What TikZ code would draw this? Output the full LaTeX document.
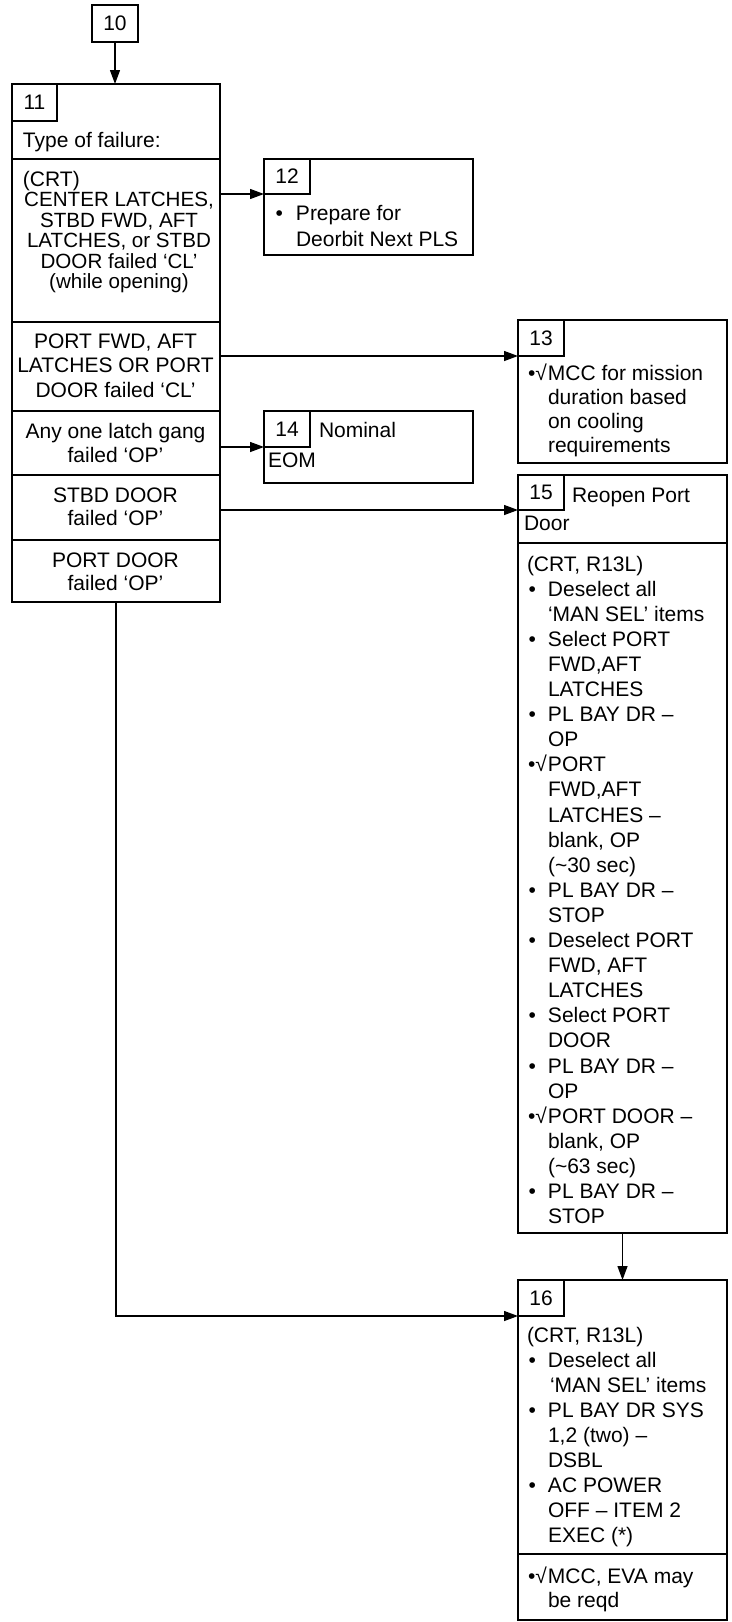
\documentclass[tikz,border=0pt]{standalone}
\usepackage{fontspec}
\setmainfont{Liberation Sans}
\usetikzlibrary{arrows.meta}
\newcommand\itm[2][21pt]{\par\hangindent=#1\hangafter=1\noindent\makebox[#1][l]{\hspace{1.5pt}•}#2}
\newcommand\chk[2][21pt]{\par\hangindent=#1\hangafter=1\noindent\makebox[#1][l]{\hspace{1pt}•√}#2}
\newcommand\tbox[3]{\parbox[t]{#1}{\fontsize{21}{#2}\selectfont\rightskip=0pt plus 1fil\relax #3}}
\newcommand\cbox[4][21]{\parbox[t]{#2}{\fontsize{#1}{#3}\selectfont\centering #4}}
\tikzset{
  box/.style={draw, line width=2.4pt, rectangle, inner sep=0pt, outer sep=0pt, anchor=north west},
  lbl/.style={draw, line width=1.4pt, rectangle, inner sep=0pt, outer sep=0pt, anchor=north west},
  sepline/.style={line width=2.4pt},
  conn/.style={line width=1.3pt, -{Triangle[length=14pt,width=10pt]}},
  tw/.style={inner sep=0pt, outer sep=0pt, anchor=base west, font=\fontsize{21}{25}\selectfont},
  tc/.style={inner sep=0pt, outer sep=0pt, anchor=base},
  num/.style={inner sep=0pt, outer sep=0pt, anchor=center, font=\fontsize{21}{25}\selectfont},
}
\begin{document}
\begin{tikzpicture}[x=1pt,y=-1pt]
\fill[white] (0,0) rectangle (731,1622);
\useasboundingbox (0,0) rectangle (731,1622);

% box 10
\node[box, line width=1.8pt, minimum width=46pt, minimum height=37pt] (b10) at (92,5) {};
\node[num] (n10) at (b10.center) {10};

% box 11
\node[box, minimum width=208pt, minimum height=518pt] (b11) at (12,84) {};
\node[lbl, minimum width=45pt, minimum height=37pt] (l11) at (12,84) {};
\node[num] (n11) at (l11.center) {11};
\draw[sepline] (12,159) -- (220,159);
\draw[sepline] (12,322) -- (220,322);
\draw[sepline] (12,411) -- (220,411);
\draw[sepline] (12,475) -- (220,475);
\draw[sepline] (12,540) -- (220,540);
\node[tw] (t11a) at (23,147) {Type of failure:};
\node[tw] (t11b) at (23,186) {(CRT)};
\node[tc] (t11c) at (119,206.5) {\cbox[20.6]{208pt}{20.5pt}{CENTER LATCHES,\\STBD FWD, AFT\\LATCHES, or STBD\\DOOR failed ‘CL’\\(while opening)}};
\node[tc] (t11d) at (115.5,348) {\cbox{208pt}{24.5pt}{PORT FWD, AFT\\LATCHES OR PORT\\DOOR failed ‘CL’}};
\node[tc] (t11e) at (115.5,438) {\cbox{208pt}{24pt}{Any one latch gang\\failed ‘OP’}};
\node[tc] (t11f) at (115.5,502) {\cbox{208pt}{23.5pt}{STBD DOOR\\failed ‘OP’}};
\node[tc] (t11g) at (115.5,567) {\cbox{208pt}{23.5pt}{PORT DOOR\\failed ‘OP’}};

% box 12
\node[box, minimum width=209pt, minimum height=96pt] (b12) at (264,159) {};
\node[lbl, minimum width=46pt, minimum height=35pt] (l12) at (264,159) {};
\node[num] (n12) at (l12.center) {12};
\node[tw] (t12) at (274,220) {\tbox{200pt}{26pt}{\itm[22pt]{Prepare for\\Deorbit Next PLS}}};

% box 13
\node[box, minimum width=209pt, minimum height=143pt] (b13) at (518,320) {};
\node[lbl, minimum width=46pt, minimum height=36pt] (l13) at (518,320) {};
\node[num] (n13) at (l13.center) {13};
\node[tw] (t13) at (527,380) {\tbox{200pt}{24pt}{\chk{MCC for mission\\duration based\\on cooling\\requirements}}};

% box 14
\node[box, minimum width=209pt, minimum height=72pt] (b14) at (264,411) {};
\node[lbl, minimum width=46pt, minimum height=36pt] (l14) at (264,411) {};
\node[num] (n14) at (l14.center) {14};
\node[tw] (t14a) at (319,437) {Nominal};
\node[tw] (t14b) at (268,467) {EOM};

% box 15
\node[box, minimum width=209pt, minimum height=758pt] (b15) at (518,475) {};
\node[lbl, minimum width=46pt, minimum height=35pt] (l15) at (518,475) {};
\node[num] (n15) at (l15.center) {15};
\draw[sepline] (518,543) -- (727,543);
\node[tw] (t15a) at (572,502) {Reopen Port};
\node[tw] (t15b) at (524,530) {Door};
\node[tw] (t15c) at (527,571) {\tbox{200pt}{25.1pt}{(CRT, R13L)
\itm{Deselect all\\‘MAN SEL’ items}
\itm{Select PORT\\FWD,AFT\\LATCHES}
\itm{PL BAY DR –\\OP}
\chk{PORT\\FWD,AFT\\LATCHES –\\blank, OP\\(\textasciitilde 30 sec)}
\itm{PL BAY DR –\\STOP}
\itm{Deselect PORT\\FWD, AFT\\LATCHES}
\itm{Select PORT\\DOOR}
\itm{PL BAY DR –\\OP}
\chk{PORT DOOR –\\blank, OP\\(\textasciitilde 63 sec)}
\itm{PL BAY DR –\\STOP}}};

% box 16
\node[box, minimum width=209pt, minimum height=340pt] (b16) at (518,1280) {};
\node[lbl, minimum width=46pt, minimum height=36pt] (l16) at (518,1280) {};
\node[num] (n16) at (l16.center) {16};
\draw[sepline] (518,1554) -- (727,1554);
\node[tw] (t16a) at (527,1342) {\tbox{200pt}{25pt}{(CRT, R13L)
\itm{Deselect all\\\hspace*{2pt}‘MAN SEL’ items}
\itm{PL BAY DR SYS\\1,2 (two) –\\DSBL}
\itm{AC POWER\\OFF – ITEM 2\\EXEC (*)}}};
\node[tw] (t16b) at (527,1583) {\tbox{200pt}{24.5pt}{\chk{MCC, EVA may\\be reqd}}};

% connectors
\draw[conn] (b10.south) -- (b10.south |- b11.north);
\draw[conn] (b11.east |- l12.south west) -- (l12.south west);
\draw[conn] (b11.east |- l13.south west) -- (l13.south west);
\draw[conn] (b11.east |- l14.south west) -- (l14.south west);
\draw[conn] (b11.east |- l15.south west) -- (l15.south west);
\draw[conn] (b15.south) -- (b16.north);
\draw[conn] (b11.south) -- (b11.south |- l16.south west) -- (l16.south west);
\end{tikzpicture}
\end{document}
